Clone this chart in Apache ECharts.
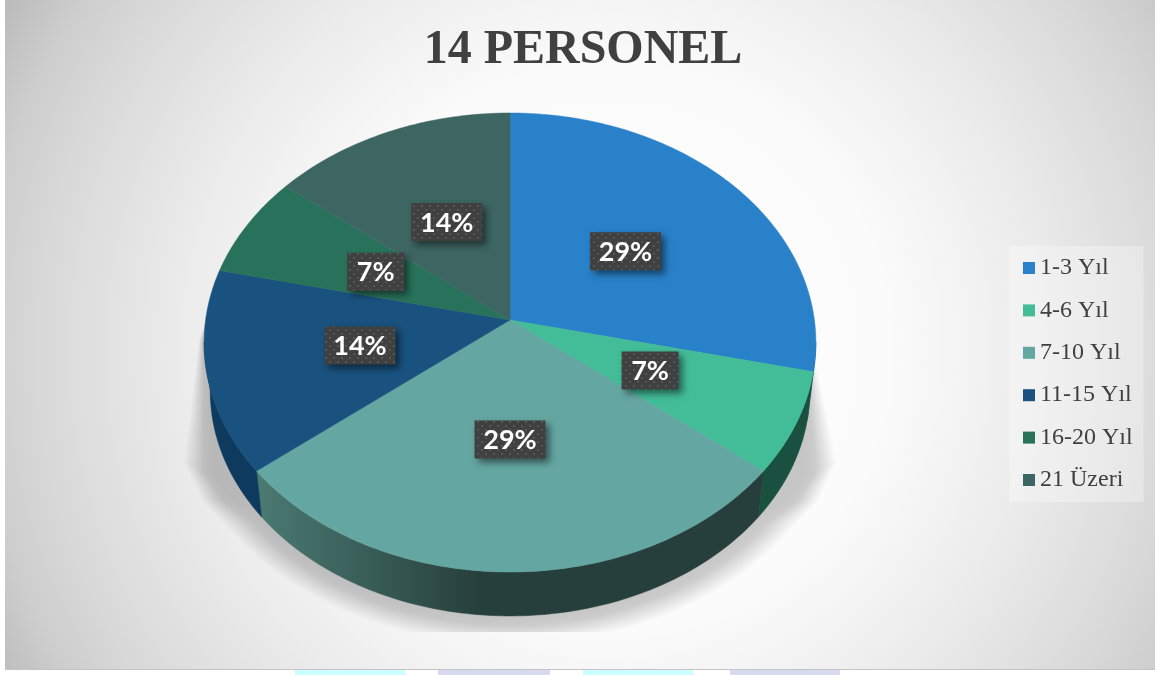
<!DOCTYPE html>
<html><head><meta charset="utf-8">
<style>html,body{margin:0;padding:0;background:#fff}#c{width:1155px;height:675px}</style>
<script src="https://cdn.jsdelivr.net/npm/echarts@6/dist/echarts.min.js"></script>
</head><body><div id="c"></div>
<script>
const titleText = '14 PERSONEL';
const categories = ['1-3 Yıl','4-6 Yıl','7-10 Yıl','11-15 Yıl','16-20 Yıl','21 Üzeri'];
const values = [4,1,4,2,1,2];
const colors = ['#2881C9','#42BD98','#64A6A1','#19527F','#28725B','#3D6562'];
const wallColors = ['#175080','#1A5040',null,'#0E3A5E','#184A3A','#2A4543'];

const total = values.reduce((a,b)=>a+b,0);
const CX=510, CY=320, A=304.4, B=227.3, K=0.098, FRONT_A=95.6, FRONT_B=264.4;
function rim(deg,r){
  r = r===undefined?1:r;
  const t=deg*Math.PI/180, x=r*Math.sin(t), y=-r*Math.cos(t), w=1-K*y;
  return [CX+A*x/w, CY+B*y/w];
}
function lower(p){ return [CX+(p[0]-CX)*0.98, CY+(p[1]-CY)*0.98+49]; }
function range(a,b){ const o=[]; const n=Math.max(2,Math.ceil(Math.abs(b-a))); for(let i=0;i<=n;i++) o.push(a+(b-a)*i/n); return o; }

const pat=document.createElement('canvas'); pat.width=8; pat.height=8;
(function(){const g=pat.getContext('2d'); g.fillStyle='#404040'; g.fillRect(0,0,8,8); g.fillStyle='#565656';
 g.fillRect(1,1,2,2); g.fillRect(5,5,2,2);})();

function renderSlice(i){
  return function(params,api){
    const before=values.slice(0,i).reduce((a,b)=>a+b,0);
    const a0=before/total*360, a1=(before+api.value(0))/total*360;
    const children=[];
    const w0=Math.max(a0,FRONT_A), w1=Math.min(a1,FRONT_B);
    if(w1>w0){
      const top=range(w0,w1).map(d=>rim(d));
      const bottom=top.map(lower).reverse();
      const fill = wallColors[i] || {type:'linear',x:258,y:0,x2:480,y2:0,global:true,
        colorStops:[{offset:0,color:'#4A7A72'},{offset:1,color:'#273F3C'}]};
      children.push({type:'polygon',z2:1,shape:{points:top.concat(bottom)},
        style:{fill:fill,stroke:fill,lineWidth:0.5}});
    }
    const pts=[[CX,CY]].concat(range(a0,a1).map(d=>rim(d)));
    children.push({type:'polygon',z2:2,shape:{points:pts},
      style:{fill:colors[i],stroke:colors[i],lineWidth:0.5}});
    const m=rim((a0+a1)/2,0.5);
    const txt=Math.round(api.value(0)/total*100)+'%';
    const w=txt.length>2?71:57, h=38;
    children.push({type:'rect',z2:10,shape:{x:m[0]-w/2,y:m[1]-h/2,width:w,height:h},
      style:{fill:{image:pat,repeat:'repeat'},shadowBlur:7,shadowOffsetX:4,shadowOffsetY:4,shadowColor:'rgba(0,0,0,0.5)'}});
    children.push({type:'text',z2:11,x:m[0],y:m[1]+1,
      style:{text:txt,fill:'#fff',font:'bold 27px Lato',align:'center',verticalAlign:'middle'}});
    return {type:'group',children};
  };
}

const shadowLayers=[];
for(let s=34;s>=0;s-=2){
  const f=1+s/300, q=(34-s)/34;
  const cl=p=>[CX+(p[0]-CX)*f, Math.min(632, 370+(p[1]-370)*f)];
  const body=range(232,128).map(d=>cl(lower(rim(d))));
  const cL=[184+q*30,462+q*15], cR=[836-q*30,462+q*15];
  const bL=body[0], bR=body[body.length-1];
  const mL=[(cL[0]+bL[0])/2-5,(cL[1]+bL[1])/2+5], mR=[(cR[0]+bR[0])/2+5,(cR[1]+bR[1])/2+5];
  const pts=[[221,272],[199+q*6,340],cL,mL].concat(body,[mR,cR,[811-q*6,340],[799,272]]);
  shadowLayers.push({type:'polygon',z:1,silent:true,shape:{points:pts},
    style:{fill:'rgba(0,0,0,'+(s>10?0.017:0.002)+')'}});
}

const chart=echarts.init(document.getElementById('c'),null,{renderer:'canvas'});
chart.setOption({
  animation:false,
  backgroundColor:'#ffffff',
  color:colors,
  title:{text:titleText,left:578,top:22,textAlign:'center',
    textStyle:{fontFamily:'Liberation Serif',fontWeight:'bold',fontSize:48,color:'#404040'}},
  legend:{orient:'vertical',left:1009,top:246,padding:[9,11,9,14],
    backgroundColor:'rgba(255,255,255,0.3)',itemWidth:12,itemHeight:12,itemGap:16.4,
    icon:'rect',data:categories,selectedMode:false,
    textStyle:{fontFamily:'Liberation Serif',fontSize:24,lineHeight:24,color:'#404040',padding:[2,0,0,0]}},
  graphic:[
    {type:'rect',z:0,silent:true,shape:{x:5,y:0,width:1150,height:669},
     style:{fill:{type:'radial',global:true,x:610,y:350,r:700,colorStops:[
       {offset:0,color:'#ffffff'},{offset:0.4,color:'#fbfbfb'},{offset:0.62,color:'#ebebeb'},{offset:0.8,color:'#dadada'},{offset:0.9,color:'#cecece'},{offset:1,color:'#bababa'}]}}},
    {type:'rect',z:0,silent:true,shape:{x:5,y:669,width:1150,height:1},style:{fill:'#c4c4c4'}},
    {type:'rect',z:0,silent:true,shape:{x:295,y:670,width:110,height:5},style:{fill:'#ccffff'}},
    {type:'rect',z:0,silent:true,shape:{x:438,y:670,width:112,height:5},style:{fill:'#d9d9f2'}},
    {type:'rect',z:0,silent:true,shape:{x:583,y:670,width:110,height:5},style:{fill:'#ccffff'}},
    {type:'rect',z:0,silent:true,shape:{x:730,y:670,width:110,height:5},style:{fill:'#d9d9f2'}}
  ].concat(shadowLayers),
  series:categories.map((name,i)=>({
    type:'custom',name:name,coordinateSystem:'none',silent:true,
    itemStyle:{color:colors[i]},
    data:[values[i]],
    renderItem:renderSlice(i)
  }))
});
</script></body></html>
